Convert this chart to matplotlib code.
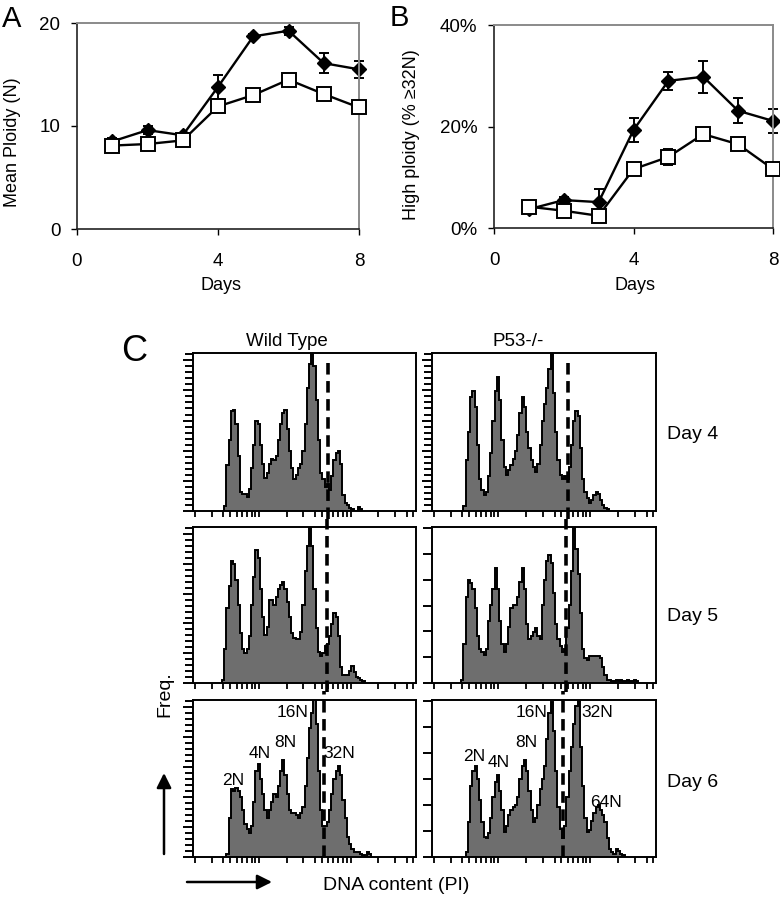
import numpy as np
import matplotlib
matplotlib.use("Agg")
import matplotlib.pyplot as plt

"""
Ploidy time course (A, B) and DNA content histograms (C)
"""

plt.rcParams['font.family'] = ['Liberation Sans', 'DejaVu Sans']

W, H = 780, 900

# ---- panel A / B values ----
days = [1, 2, 3, 4, 5, 6, 7, 8]
ploidy_filled = [8.5, 9.6, 9.1, 13.8, 18.7, 19.25, 16.1, 15.5]
ploidy_filled_err = [0.3, 0.4, 0.2, 1.2, 0.2, 0.4, 1.0, 0.8]
ploidy_open = [8.1, 8.25, 8.6, 11.9, 13.0, 14.5, 13.1, 11.8]
ploidy_open_err = [0.2, 0.2, 0.2, 0.3, 0.3, 0.3, 0.3, 0.3]
high_filled = [3.7, 5.5, 5.1, 19.3, 29.0, 29.8, 23.1, 21.1]
high_filled_err = [0.8, 0.6, 2.5, 2.3, 1.8, 3.2, 2.5, 2.3]
high_open = [4.2, 3.4, 2.4, 11.6, 14.0, 18.5, 16.5, 11.6]
high_open_err = [0.5, 1.0, 0.5, 0.5, 1.5, 0.5, 0.5, 0.5]

# ---- panel C histograms (bin heights, fraction of full scale) ----
wt_day4_start = 14
wt_day4 = [.03, .29, .45, .63, .64, .55, .35, .12, .11, .11, .09, .14, .27, .42, .57,
           .55, .42, .30, .21, .24, .30, .33, .32, .35, .45, .55, .62, .64, .52, .38,
           .27, .20, .23, .27, .30, .38, .55, .78, .93, 1.02, .92, .70, .45, .24, .20,
           .15, .17, .13, .22, .32, .37, .38, .30, .10, .05, .04, .02, .01, 0, 0, .025, .01]
p53_day4_start = 14
p53_day4 = [.03, .32, .50, .72, .76, .66, .42, .20, .13, .10, .12, .22, .37, .57, .76,
            .85, .70, .45, .28, .23, .26, .29, .33, .38, .48, .62, .72, .66, .50, .40,
            .32, .28, .25, .30, .42, .57, .68, .78, .90, 1.05, .75, .50, .32, .23, .20,
            .22, .20, .28, .42, .57, .63, .60, .40, .20, .12, .08, .05, .07, .10, .12,
            .11, .07, .04, .02, .01]
wt_day5_start = 13
wt_day5 = [.02, .22, .48, .62, .78, .76, .66, .50, .32, .22, .19, .22, .30, .50, .68,
           .85, .80, .60, .42, .31, .36, .53, .53, .50, .55, .60, .63, .65, .60, .52,
           .42, .32, .29, .28, .28, .33, .50, .72, .88, 1.02, .88, .60, .35, .20, .17,
           .19, .24, .25, .30, .38, .45, .42, .30, .10, .05, .05, .05, .08, .11, .07,
           .04, .03, .02, .01]
p53_day5_start = 13
p53_day5 = [.02, .25, .55, .66, .64, .60, .48, .30, .22, .20, .18, .22, .40, .50, .60,
            .74, .60, .40, .25, .20, .25, .36, .48, .50, .50, .55, .65, .74, .60, .38,
            .28, .30, .33, .35, .30, .28, .50, .66, .78, .82, .77, .58, .38, .28, .24,
            .20, .22, .35, .50, .72, 1.0, .86, .70, .45, .22, .16, .15, .17, .17, .17,
            .17, .17, .16, .10, .05, .02, .02, .01, .01, .02, .01, .02, .01, .01, .02,
            .01, .01, .02, .01]
wt_day6_start = 15
wt_day6 = [.02, .25, .43, .42, .44, .42, .38, .30, .21, .18, .15, .20, .35, .55, .59,
           .50, .40, .30, .25, .30, .35, .40, .38, .45, .55, .62, .52, .40, .30, .28,
           .28, .27, .25, .28, .32, .45, .63, .82, .92, 1.02, .85, .55, .30, .20, .20,
           .22, .30, .40, .50, .55, .58, .52, .36, .25, .13, .08, .05, .03, .03, .03,
           .02, .01, 0, .03, .02]
p53_day6_start = 15
p53_day6 = [.03, .22, .45, .55, .58, .50, .36, .22, .13, .12, .15, .25, .38, .48, .52,
            .42, .30, .16, .20, .27, .30, .32, .33, .38, .50, .58, .62, .55, .42, .30,
            .22, .25, .33, .43, .50, .58, .75, .92, .99, .80, .55, .32, .18, .12, .20,
            .38, .55, .70, .85, .96, 1.02, .70, .45, .25, .16, .17, .23, .28, .32, .33,
            .30, .27, .22, .12, .05, .03, .02, .05, .04, .02, .01]

# gate (dashed line) position per row
wt_gate = [60.5, 60.0, 58.7]
p53_gate = [60.7, 59.8, 58.5]

# peak labels on day 6 (bin, height)
wt_peak_labels = [("2N", 17.9, .49), ("4N", 30.0, .66), ("8N", 41.3, .73),
                  ("16N", 44.8, .92), ("32N", 65.5, .66)]
p53_peak_labels = [("2N", 18.75, .64), ("4N", 29.9, .60), ("8N", 42.0, .73),
                   ("16N", 44.6, .92), ("32N", 73.7, .92), ("64N", 77.7, .35)]

# x tick pattern under the histograms
tick_group = [0, 7.5, 12.7, 15.7, 18.7, 20.9, 23.2, 25.4, 26.9, 28.7]
tick_starts = [0.9, 42.0, 83.1]


def rect(x0, x1, y0, y1):
    return [x0 / W, 1 - y1 / H, (x1 - x0) / W, (y1 - y0) / H]


def ftext(x, y, s, **kw):
    fig.text(x / W, 1 - y / H, s, **kw)


def style_line_axes(ax):
    for s in ['top', 'right']:
        ax.spines[s].set_color('#8a8a8a')
        ax.spines[s].set_linewidth(1.4)
    for s in ['left', 'bottom']:
        ax.spines[s].set_color('#222222')
        ax.spines[s].set_linewidth(1.2)
    ax.tick_params(direction='out', length=4, width=1, labelsize=13.5)
    ax.tick_params(axis='y', pad=8)
    ax.tick_params(axis='x', pad=13)


def draw_hist(ax, start, heights, dense, gate, ymin, ymax):
    edges = start + np.arange(len(heights) + 1)
    ax.stairs(heights, edges, fill=True, facecolor='#6e6e6e', edgecolor='none')
    ax.stairs(heights, edges, color='black', lw=1.4)
    ax.set_xlim(0, 100)
    ax.set_ylim(0, 1)
    for s in ax.spines.values():
        s.set_linewidth(1.4)
    xt = [s + g for s in tick_starts for g in tick_group if s + g <= 100]
    ax.set_xticks(xt)
    if dense:
        step = 1 / 26.2
        major = [k * step for k in range(0, 27, 5)]
        minor = [k * step for k in range(0, 27) if k % 5]
        ax.set_yticks(major)
        ax.set_yticks(minor, minor=True)
        ax.tick_params(axis='y', which='major', length=7.5, width=1.4)
        ax.tick_params(axis='y', which='minor', length=6, width=1.4)
    else:
        step = 1 / 6.04
        ax.set_yticks([k * step for k in range(0, 7)])
        ax.tick_params(axis='y', which='major', length=6.5, width=1.4)
    ax.tick_params(axis='x', which='major', length=4.5, width=1.3)
    ax.tick_params(direction='out', labelleft=False, labelbottom=False)
    ax.tick_params(which='minor', direction='out')
    ax.axvline(gate, ymin=ymin, ymax=ymax, color='black', lw=2.6,
               ls=(0, (3.2, 1.8)), clip_on=False, zorder=5)


fig = plt.figure(figsize=(W / 100, H / 100), dpi=100)

# ---- A ----
axA = fig.add_axes(rect(77, 359, 23, 229))
axA.errorbar(days, ploidy_filled, yerr=ploidy_filled_err, color='black', marker='D',
             ms=7.5, lw=1.7, elinewidth=1.4, capsize=3.5, capthick=1.4, zorder=2,
             clip_on=False)
axA.errorbar(days, ploidy_open, yerr=ploidy_open_err, color='black', marker='s',
             ms=9.5, mfc='white', mec='black', mew=1.4, lw=1.7, elinewidth=1.4,
             capsize=3.5, capthick=1.4, zorder=3, clip_on=False)
axA.set_xlim(0, 8)
axA.set_ylim(0, 20)
axA.set_xticks([0, 4, 8])
axA.set_yticks([0, 10, 20])
style_line_axes(axA)

# ---- B ----
axB = fig.add_axes(rect(494, 773, 25, 228))
axB.errorbar(days, high_filled, yerr=high_filled_err, color='black', marker='D',
             ms=7.5, lw=1.7, elinewidth=1.4, capsize=3.5, capthick=1.4, zorder=2,
             clip_on=False)
axB.errorbar(days, high_open, yerr=high_open_err, color='black', marker='s',
             ms=9.5, mfc='white', mec='black', mew=1.4, lw=1.7, elinewidth=1.4,
             capsize=3.5, capthick=1.4, zorder=3, clip_on=False)
axB.set_xlim(0, 8)
axB.set_ylim(0, 40)
axB.set_xticks([0, 4, 8])
axB.set_yticks([0, 20, 40])
axB.set_yticklabels(['0%', '20%', '40%'])
style_line_axes(axB)

ftext(2, 27, "A", fontsize=21)
ftext(390, 26, "B", fontsize=21)
ftext(13, 142, "Mean Ploidy (N)", rotation=90, ha='center', va='center', fontsize=13)
ftext(412, 135, "High ploidy (% \u226532N)", rotation=90, ha='center', va='center',
      fontsize=13)
ftext(221, 286, "Days", ha='center', va='center', fontsize=13)
ftext(635, 286, "Days", ha='center', va='center', fontsize=13)

# ---- C ----
cols = [(193, 416), (432, 656)]
rows = [(353, 511), (527, 683), (700, 857)]
wt_hists = [(wt_day4_start, wt_day4), (wt_day5_start, wt_day5), (wt_day6_start, wt_day6)]
p53_hists = [(p53_day4_start, p53_day4), (p53_day5_start, p53_day5),
             (p53_day6_start, p53_day6)]
gate_spans = [(-0.05, 0.96), (-0.055, 1.05), (0.0, 1.055)]
p53_dense = [True, False, False]

hist_axes = []
for r, (y0, y1) in enumerate(rows):
    ax_wt = fig.add_axes(rect(cols[0][0], cols[0][1], y0, y1))
    draw_hist(ax_wt, wt_hists[r][0], wt_hists[r][1], True, wt_gate[r], *gate_spans[r])
    ax_p = fig.add_axes(rect(cols[1][0], cols[1][1], y0, y1))
    draw_hist(ax_p, p53_hists[r][0], p53_hists[r][1], p53_dense[r], p53_gate[r],
              *gate_spans[r])
    hist_axes.append((ax_wt, ax_p))

for lab, bx, hy in wt_peak_labels:
    hist_axes[2][0].text(bx, hy, lab, ha='center', va='center', fontsize=12.5, zorder=6)
for lab, bx, hy in p53_peak_labels:
    hist_axes[2][1].text(bx, hy, lab, ha='center', va='center', fontsize=12.5, zorder=6)

ftext(121, 361, "C", fontsize=26)
ftext(287, 346, "Wild Type", ha='center', fontsize=13.5)
ftext(518, 346, "P53-/-", ha='center', fontsize=13.5)
ftext(667, 439, "Day 4", fontsize=14)
ftext(667, 621, "Day 5", fontsize=14)
ftext(667, 787, "Day 6", fontsize=14)
ftext(165, 694, "Freq.", rotation=90, ha='center', va='center', fontsize=14)
ftext(323, 890, "DNA content (PI)", fontsize=14)

fig.add_artist(plt.Annotation("", xy=(164 / W, 1 - 773 / H), xytext=(164 / W, 1 - 854 / H),
                              xycoords='figure fraction', textcoords='figure fraction',
                              arrowprops=dict(arrowstyle='-|>', lw=1.8, color='black',
                                              mutation_scale=22, shrinkA=0, shrinkB=0)))
fig.add_artist(plt.Annotation("", xy=(272 / W, 1 - 882 / H), xytext=(187 / W, 1 - 882 / H),
                              xycoords='figure fraction', textcoords='figure fraction',
                              arrowprops=dict(arrowstyle='-|>', lw=1.8, color='black',
                                              mutation_scale=22, shrinkA=0, shrinkB=0)))

fig.savefig("out.png", dpi=100)
plt.close(fig)
